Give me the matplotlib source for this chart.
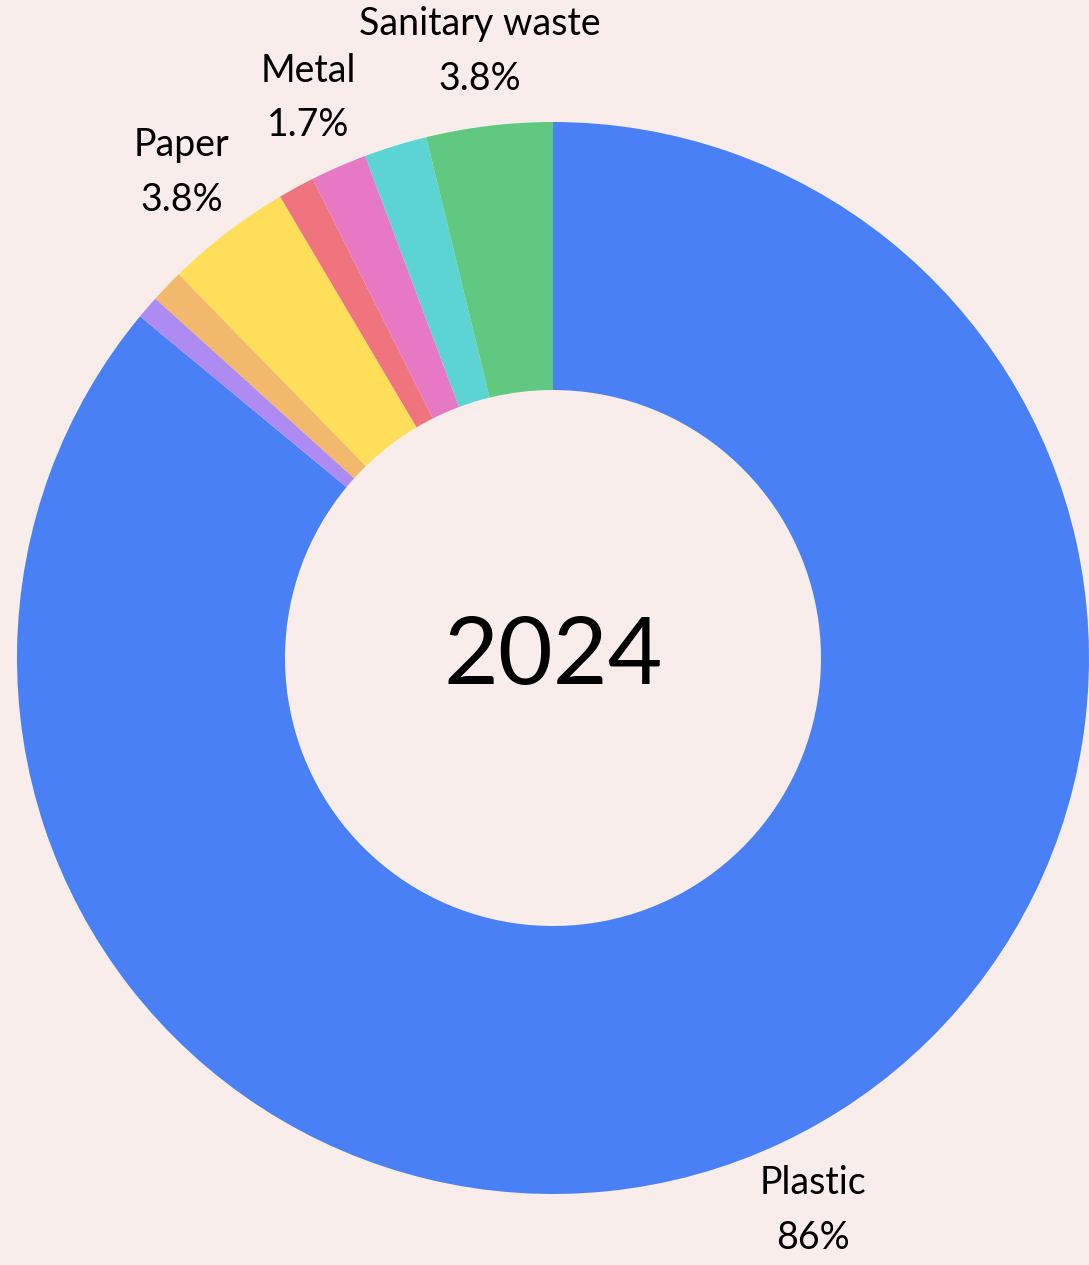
"""
Waste composition donut, 2024
"""
import numpy as np
import matplotlib.pyplot as plt

# ==========================================================
# Data
# ==========================================================
categories = ["Plastic", "Textile", "Glass", "Paper", "Organic", "Metal", "E-waste", "Sanitary waste"]
shares = [86.0, 0.7, 1.0, 3.8, 1.1, 1.7, 1.9, 3.8]
pct_labels = ["86%", "0.7%", "1%", "3.8%", "1.1%", "1.7%", "1.9%", "3.8%"]
shown = ["Plastic", "Paper", "Metal", "Sanitary waste"]
colors = ["#4A80F5", "#AE8BF3", "#F2B86C", "#FFDE5A", "#EF747D", "#E779C4", "#5DD4D4", "#60C880"]

bg = "#F8EDEB"
plt.rcParams["font.family"] = ["Lato", "DejaVu Sans"]

fig = plt.figure(figsize=(10.89, 12.65), dpi=100, facecolor=bg)
ax = fig.add_axes([0, 0, 1, 1])
ax.set_facecolor(bg)

wedges, _ = ax.pie(
    shares,
    colors=colors,
    startangle=90,
    counterclock=False,
    radius=1.0,
    wedgeprops=dict(width=0.5, linewidth=0),
)

# Labels outside the ring
for w, name, pct in zip(wedges, categories, pct_labels):
    if name not in shown:
        continue
    mid = np.deg2rad((w.theta1 + w.theta2) / 2)
    r = 1.14
    ax.text(
        r * np.cos(mid), r * np.sin(mid), f"{name}\n{pct}",
        ha="center", va="center", fontsize=27, linespacing=1.65, color="black",
    )

ax.text(0, 0, "2024", ha="center", va="center", fontsize=68, color="black")

# Place the ring where it sits in the canvas
R = 536.0
ax.set_xlim(-553 / R, (1089 - 553) / R)
ax.set_ylim(-(1265 - 658) / R, 658 / R)
ax.set_aspect("equal")
ax.axis("off")

fig.savefig("out.png", dpi=100, facecolor=bg)
